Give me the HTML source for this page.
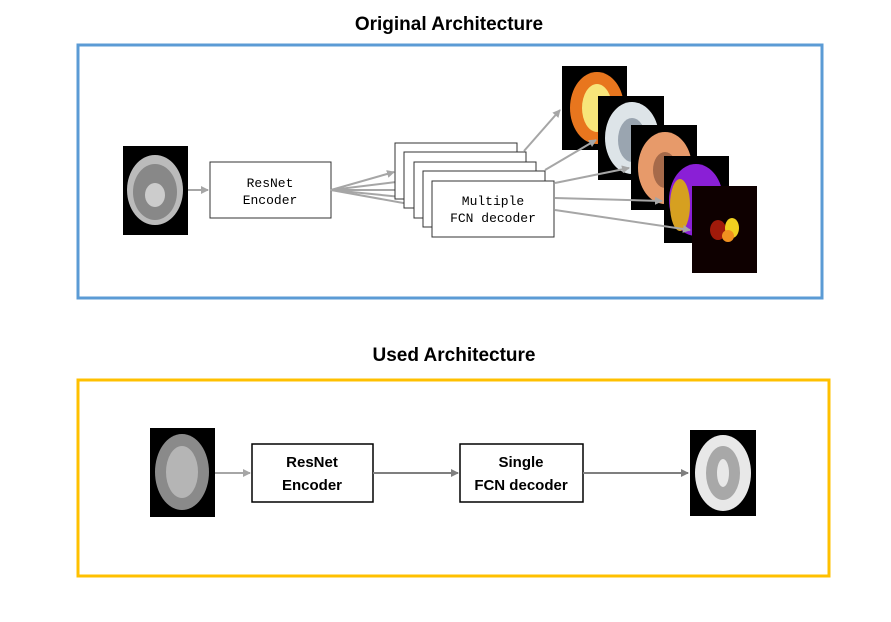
<!DOCTYPE html>
<html><head><style>
body{margin:0;background:#fff;width:891px;height:617px;overflow:hidden;font-family:"Liberation Sans",sans-serif}
</style></head><body>
<svg width="891" height="617" viewBox="0 0 891 617" xmlns="http://www.w3.org/2000/svg">
<defs>
<marker id="a" markerWidth="8" markerHeight="8" refX="7" refY="4" orient="auto" markerUnits="userSpaceOnUse"><path d="M0,0 L8,4 L0,8 z" fill="#a6a6a6"/></marker>
<marker id="b" markerWidth="8" markerHeight="8" refX="7" refY="4" orient="auto" markerUnits="userSpaceOnUse"><path d="M0,0 L8,4 L0,8 z" fill="#7f7f7f"/></marker>
</defs>
<text x="449" y="30" text-anchor="middle" font-size="19" font-weight="bold" font-family="Liberation Sans">Original Architecture</text>
<rect x="78" y="45" width="744" height="253" fill="none" stroke="#5b9bd5" stroke-width="3"/>
<text x="454" y="361" text-anchor="middle" font-size="19" font-weight="bold">Used Architecture</text>
<rect x="78" y="380" width="751" height="196" fill="none" stroke="#ffc000" stroke-width="3"/>

<!-- top input brain -->
<rect x="123" y="146" width="65" height="89" fill="#000"/>
<ellipse cx="155" cy="190" rx="28" ry="35" fill="#bbb"/>
<ellipse cx="155" cy="192" rx="22" ry="28" fill="#888"/>
<ellipse cx="155" cy="195" rx="10" ry="12" fill="#ccc"/>

<rect x="210" y="162" width="121" height="56" fill="#fff" stroke="#333" stroke-width="1"/>
<text x="270" y="187" text-anchor="middle" font-size="13" font-family="Liberation Mono">ResNet</text>
<text x="270" y="204" text-anchor="middle" font-size="13" font-family="Liberation Mono">Encoder</text>
<line x1="188" y1="190" x2="208" y2="190" stroke="#a6a6a6" stroke-width="2" marker-end="url(#a)"/>

<g stroke="#a6a6a6" stroke-width="2" fill="none">
<line x1="331" y1="190" x2="394" y2="172" marker-end="url(#a)"/>
<line x1="331" y1="190" x2="404" y2="181" marker-end="url(#a)"/>
<line x1="331" y1="190" x2="413" y2="190" marker-end="url(#a)"/>
<line x1="331" y1="190" x2="422" y2="199" marker-end="url(#a)"/>
<line x1="331" y1="190" x2="431" y2="208" marker-end="url(#a)"/>
</g>
<g fill="#fff" stroke="#333" stroke-width="1">
<rect x="395" y="143" width="122" height="56"/>
<rect x="404" y="152" width="122" height="56"/>
<rect x="414" y="162" width="122" height="56"/>
<rect x="423" y="171" width="122" height="56"/>
<rect x="432" y="181" width="122" height="56"/>
</g>
<text x="493" y="205" text-anchor="middle" font-size="13" font-family="Liberation Mono">Multiple</text>
<text x="493" y="222" text-anchor="middle" font-size="13" font-family="Liberation Mono">FCN decoder</text>

<!-- output images -->
<rect x="562" y="66" width="65" height="84" fill="#000"/>
<ellipse cx="597" cy="108" rx="27" ry="36" fill="#e8761e"/>
<ellipse cx="597" cy="108" rx="15" ry="24" fill="#f7e57a"/>
<rect x="598" y="96" width="66" height="84" fill="#000"/>
<ellipse cx="632" cy="138" rx="27" ry="36" fill="#dde4e8"/>
<ellipse cx="632" cy="140" rx="14" ry="22" fill="#9aa5b0"/>
<rect x="631" y="125" width="66" height="85" fill="#000"/>
<ellipse cx="665" cy="168" rx="27" ry="36" fill="#e79a6a"/>
<ellipse cx="665" cy="170" rx="12" ry="18" fill="#a66a4a"/>
<rect x="664" y="156" width="65" height="87" fill="#000"/>
<ellipse cx="696" cy="200" rx="27" ry="36" fill="#8a1fd6"/>
<ellipse cx="680" cy="205" rx="10" ry="26" fill="#d6a020"/>
<rect x="692" y="186" width="65" height="87" fill="#0e0000"/>
<ellipse cx="718" cy="230" rx="8" ry="10" fill="#a01a0a"/>
<ellipse cx="732" cy="228" rx="7" ry="10" fill="#f0d020"/>
<ellipse cx="728" cy="236" rx="6" ry="6" fill="#f09020"/>

<g stroke="#a6a6a6" stroke-width="2">
<line x1="524" y1="151" x2="560" y2="110" marker-end="url(#a)"/>
<line x1="545" y1="170" x2="596" y2="140" marker-end="url(#a)"/>
<line x1="555" y1="183" x2="629" y2="168" marker-end="url(#a)"/>
<line x1="555" y1="198" x2="662" y2="201" marker-end="url(#a)"/>
<line x1="555" y1="210" x2="690" y2="230" marker-end="url(#a)"/>
</g>

<!-- bottom -->
<rect x="150" y="428" width="65" height="89" fill="#000"/>
<ellipse cx="182" cy="472" rx="27" ry="38" fill="#8a8a8a"/>
<ellipse cx="182" cy="472" rx="16" ry="26" fill="#b5b5b5"/>
<rect x="690" y="430" width="66" height="86" fill="#000"/>
<ellipse cx="723" cy="473" rx="28" ry="38" fill="#e8e8e8"/>
<ellipse cx="723" cy="473" rx="17" ry="27" fill="#a8a8a8"/>
<ellipse cx="723" cy="473" rx="6" ry="14" fill="#e8e8e8"/>

<rect x="252" y="444" width="121" height="58" fill="#fff" stroke="#000" stroke-width="1.5"/>
<text x="312" y="467" text-anchor="middle" font-size="15" font-weight="bold">ResNet</text>
<text x="312" y="490" text-anchor="middle" font-size="15" font-weight="bold">Encoder</text>
<rect x="460" y="444" width="123" height="58" fill="#fff" stroke="#000" stroke-width="1.5"/>
<text x="521" y="467" text-anchor="middle" font-size="15" font-weight="bold">Single</text>
<text x="521" y="490" text-anchor="middle" font-size="15" font-weight="bold">FCN decoder</text>
<line x1="215" y1="473" x2="250" y2="473" stroke="#a6a6a6" stroke-width="2" marker-end="url(#a)"/>
<line x1="373" y1="473" x2="458" y2="473" stroke="#7f7f7f" stroke-width="2" marker-end="url(#b)"/>
<line x1="583" y1="473" x2="688" y2="473" stroke="#7f7f7f" stroke-width="2" marker-end="url(#b)"/>
</svg>
</body></html>
